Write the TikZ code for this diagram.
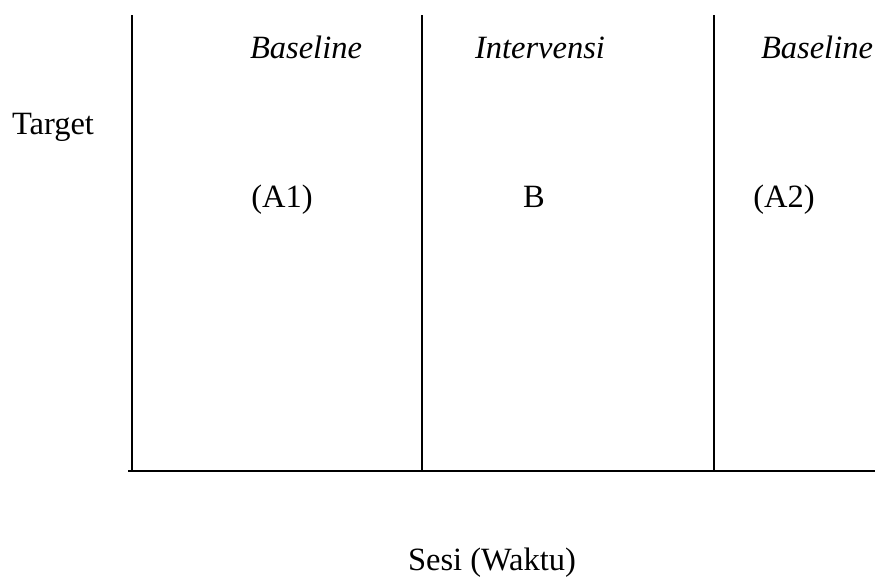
\documentclass[tikz,border=0pt]{standalone}
\usepackage{fontspec}
\setmainfont{Liberation Serif}
\usetikzlibrary{positioning}

\begin{document}
\begin{tikzpicture}[x=1pt,y=-1pt,line width=2.6pt,
  lab/.style={anchor=base,inner sep=0pt,font=\fontsize{32.5}{39}\selectfont},
  phase/.style={lab,font=\fontsize{32.5}{39}\selectfont\itshape}]
\useasboundingbox (0,0) rectangle (875,579);
\coordinate (xstart) at (128,471);
\coordinate (xend) at (875,471);
\draw (xstart)--(xend);
\foreach \x/\nm in {132/a,422/b,714/c}{\coordinate (top\nm) at (\x,15);\coordinate (bot\nm) at (\x,471);\draw (top\nm)--(bot\nm);}
\foreach \x/\nm/\lab in {306/bl1/Baseline,540/iv/Intervensi,817/bl2/Baseline}{\node[phase] (\nm) at (\x,58) {\lab};}
\foreach \x/\nm/\lab in {282/pa1/{(A1)},534/pb/{B},784/pa2/{(A2)}}{\node[lab] (\nm) at (\x,207) {\lab};}
\node[lab] (target) at (53,134) {Target};
\node[lab] (sesi) at (492,570) {Sesi (Waktu)};
\end{tikzpicture}
\end{document}
